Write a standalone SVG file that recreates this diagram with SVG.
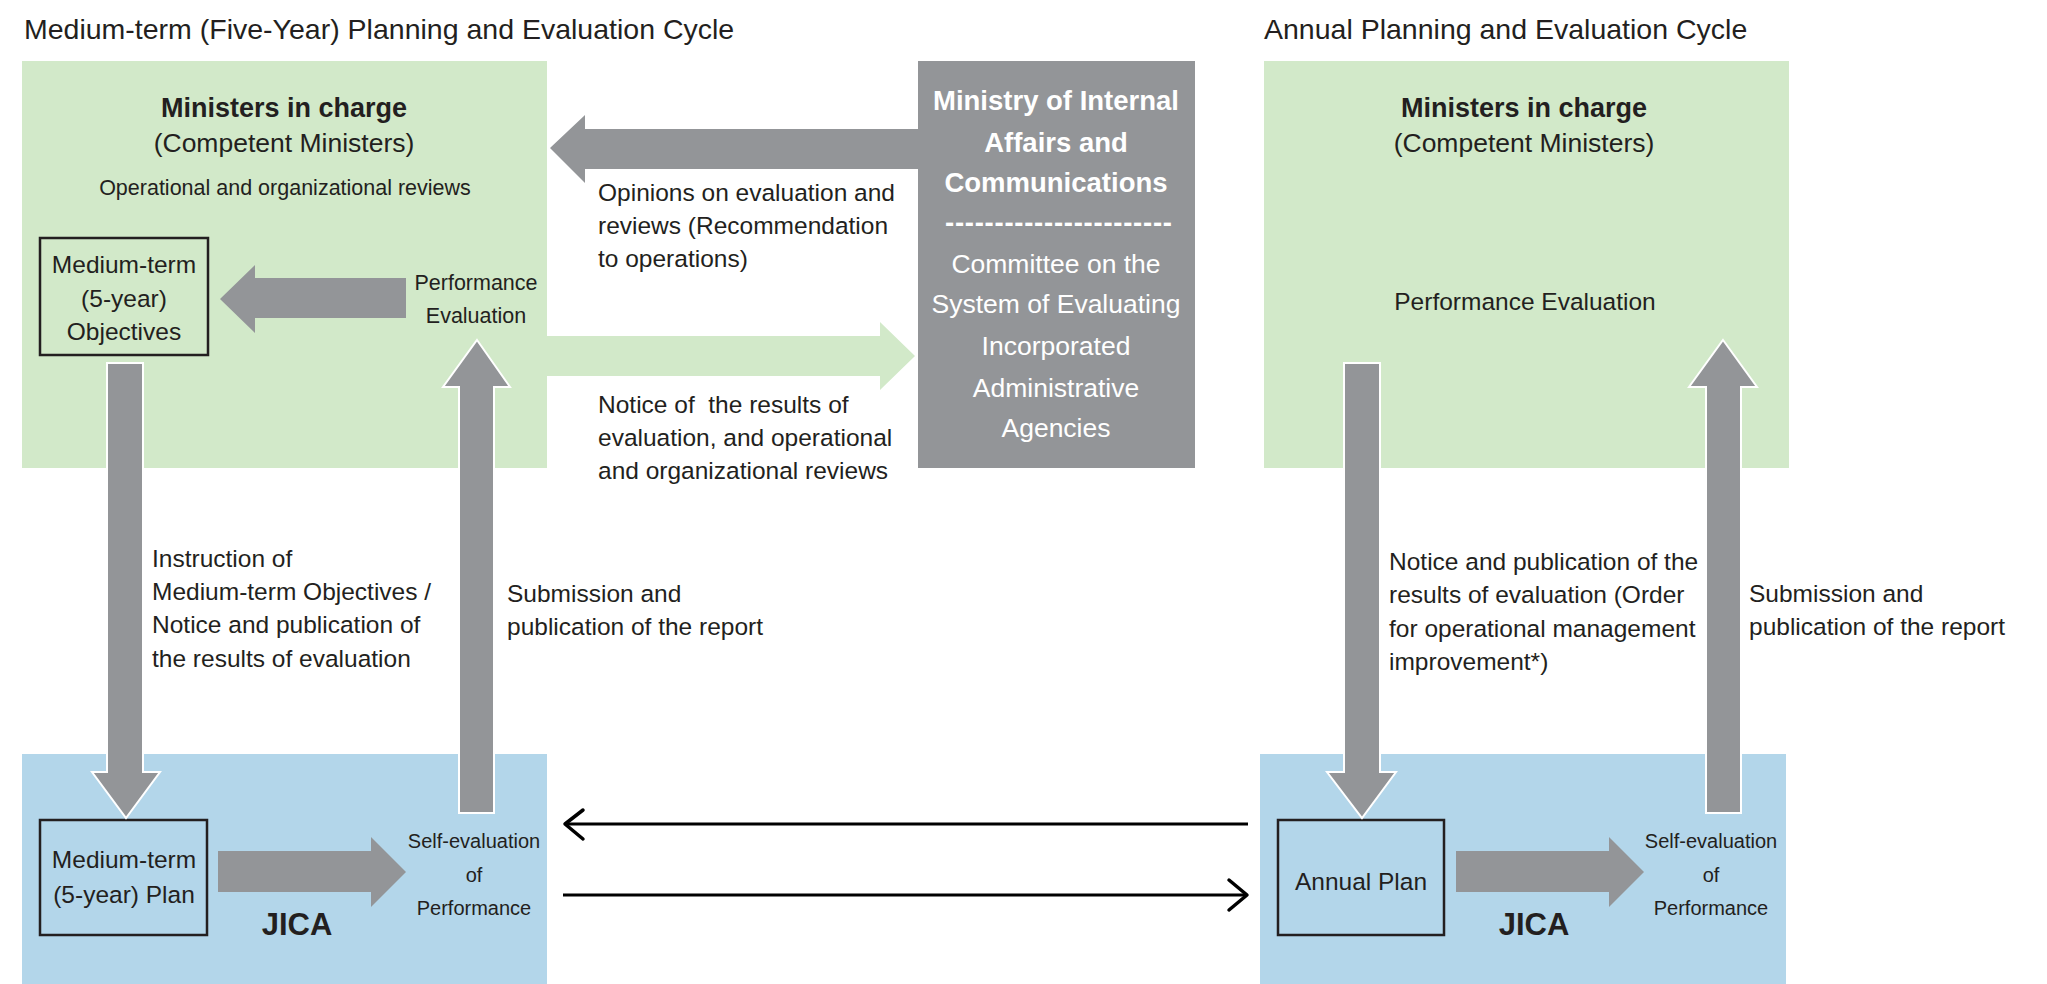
<svg xmlns="http://www.w3.org/2000/svg" width="2047" height="984" viewBox="0 0 2047 984">
<style>
text{font-family:"Liberation Sans",Arial,sans-serif;fill:#231f20}
.t{font-size:28.5px}
.b{font-size:24.5px}
.h{font-size:27px;font-weight:bold}
.sub{font-size:26.5px}
.s{font-size:21.5px}
.xs{font-size:20px}
.j{font-size:31px;font-weight:bold}
.wb{fill:#ffffff;font-size:27.5px;font-weight:bold}
.ws{fill:#ffffff;font-size:26.5px}
.c{text-anchor:middle}
.green{fill:#d2e9c9}
.blue{fill:#b3d6ea}
.gray{fill:#939598}
.box{fill:none;stroke:#231f20;stroke-width:2.5}
.ga{fill:#939598}
.go{fill:#939598;stroke:#ffffff;stroke-width:2}
.ln{fill:none;stroke:#000000;stroke-width:3}
.ch{fill:none;stroke:#000000;stroke-width:3.5;stroke-linecap:round;stroke-linejoin:round}
</style>

<g id="titles">
<text class="t" x="24" y="39">Medium-term (Five-Year) Planning and Evaluation Cycle</text>
<text class="t" x="1264" y="39">Annual Planning and Evaluation Cycle</text>
</g>

<g id="ministers-medium">
<rect class="green" x="22" y="61" width="525" height="407"/>
<text class="h c" x="284" y="117">Ministers in charge</text>
<text class="sub c" x="284" y="152">(Competent Ministers)</text>
<text class="s c" x="285" y="195">Operational and organizational reviews</text>
<text class="s c" x="476" y="290">Performance</text>
<text class="s c" x="476" y="323">Evaluation</text>
</g>

<g id="objectives">
<rect class="box" x="40" y="238" width="168" height="117"/>
<text class="b c" x="124" y="273">Medium-term</text>
<text class="b c" x="124" y="307">(5-year)</text>
<text class="b c" x="124" y="340">Objectives</text>
</g>

<g id="ministry">
<rect class="gray" x="918" y="61" width="277" height="407"/>
<text class="wb c" x="1056" y="110">Ministry of Internal</text>
<text class="wb c" x="1056" y="152">Affairs and</text>
<text class="wb c" x="1056" y="192">Communications</text>
<text class="wb" x="945" y="232" textLength="227" lengthAdjust="spacing">-----------------------</text>
<text class="ws c" x="1056" y="273">Committee on the</text>
<text class="ws c" x="1056" y="313">System of Evaluating</text>
<text class="ws c" x="1056" y="355">Incorporated</text>
<text class="ws c" x="1056" y="397">Administrative</text>
<text class="ws c" x="1056" y="437">Agencies</text>
</g>

<g id="ministers-annual">
<rect class="green" x="1264" y="61" width="525" height="407"/>
<text class="h c" x="1524" y="117">Ministers in charge</text>
<text class="sub c" x="1524" y="152">(Competent Ministers)</text>
<text class="b c" x="1525" y="310">Performance Evaluation</text>
</g>

<g id="jica-medium">
<rect class="blue" x="22" y="754" width="525" height="230"/>
<text class="j c" x="297" y="935">JICA</text>
<text class="xs c" x="474" y="848">Self-evaluation</text>
<text class="xs c" x="474" y="882">of</text>
<text class="xs c" x="474" y="915">Performance</text>
</g>

<g id="plan-medium">
<rect class="box" x="40" y="820" width="167" height="115"/>
<text class="b c" x="124" y="868">Medium-term</text>
<text class="b c" x="124" y="903">(5-year) Plan</text>
</g>

<g id="jica-annual">
<rect class="blue" x="1260" y="754" width="526" height="230"/>
<text class="j c" x="1534" y="935">JICA</text>
<text class="xs c" x="1711" y="848">Self-evaluation</text>
<text class="xs c" x="1711" y="882">of</text>
<text class="xs c" x="1711" y="915">Performance</text>
</g>

<g id="plan-annual">
<rect class="box" x="1278" y="820" width="166" height="115"/>
<text class="b c" x="1361" y="890">Annual Plan</text>
</g>

<g id="connectors">
<polygon class="ga" points="550,148 585,115 585,129 918,129 918,169 585,169 585,183"/>
<polygon class="green" points="546,336 880,336 880,322 915,356 880,390 880,376 546,376"/>
<polygon class="ga" points="220,299 255,265 255,278 406,278 406,318 255,318 255,333"/>
<polygon class="go" points="107,363 143,363 143,772 160,772 126,818 92,772 107,772"/>
<polygon class="go" points="477,340 510,387 494,387 494,813 459,813 459,387 443,387"/>
<polygon class="ga" points="218,851 371,851 371,837 406,872 371,907 371,892 218,892"/>
<polygon class="go" points="1344,363 1380,363 1380,772 1396,772 1362,818 1327,772 1344,772"/>
<polygon class="go" points="1723,340 1757,387 1741,387 1741,813 1706,813 1706,387 1689,387"/>
<polygon class="ga" points="1456,851 1609,851 1609,837 1644,872 1609,907 1609,892 1456,892"/>
<line class="ln" x1="566" y1="824" x2="1248" y2="824"/>
<polyline class="ch" points="583,810 565,824 583,839"/>
<line class="ln" x1="563" y1="895" x2="1246" y2="895"/>
<polyline class="ch" points="1229,880 1247,895 1229,910"/>
</g>

<g id="labels">
<text class="b" x="598" y="201">Opinions on evaluation and</text>
<text class="b" x="598" y="234">reviews (Recommendation</text>
<text class="b" x="598" y="267">to operations)</text>
<text class="b" x="598" y="413" xml:space="preserve">Notice of  the results of</text>
<text class="b" x="598" y="446">evaluation, and operational</text>
<text class="b" x="598" y="479">and organizational reviews</text>
<text class="b" x="152" y="567">Instruction of</text>
<text class="b" x="152" y="600">Medium-term Objectives /</text>
<text class="b" x="152" y="633">Notice and publication of</text>
<text class="b" x="152" y="667">the results of evaluation</text>
<text class="b" x="507" y="602">Submission and</text>
<text class="b" x="507" y="635">publication of the report</text>
<text class="b" x="1389" y="570">Notice and publication of the</text>
<text class="b" x="1389" y="603">results of evaluation (Order</text>
<text class="b" x="1389" y="637">for operational management</text>
<text class="b" x="1389" y="670">improvement*)</text>
<text class="b" x="1749" y="602">Submission and</text>
<text class="b" x="1749" y="635">publication of the report</text>
</g>
</svg>
